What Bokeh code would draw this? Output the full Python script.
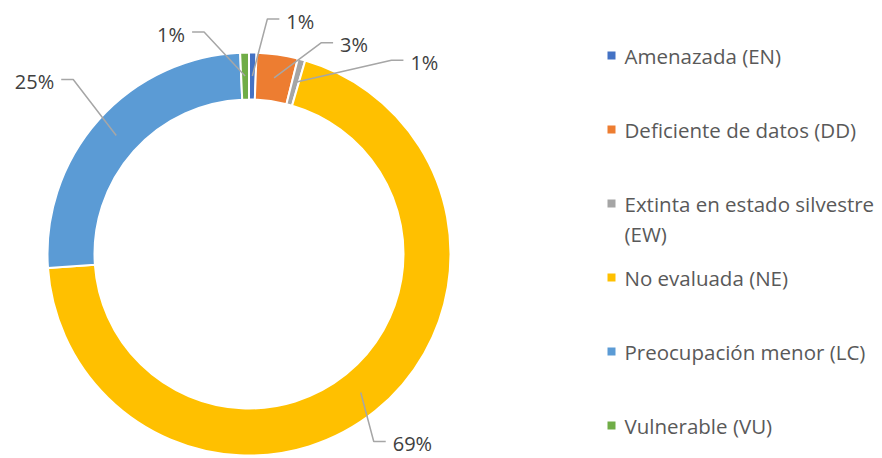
import numpy as np
from bokeh.plotting import figure
from bokeh.models import Range1d, ColumnDataSource
from bokeh.embed import file_html
from bokeh.resources import INLINE
from bokeh.core.properties import value

# ---- data ----
categories = ["Amenazada (EN)", "Deficiente de datos (DD)",
              "Extinta en estado silvestre (EW)", "No evaluada (NE)",
              "Preocupación menor (LC)", "Vulnerable (VU)"]
shares = [0.6, 3.3, 0.6, 69.4, 25.4, 0.7]
colors = ["#4472C4", "#ED7D31", "#A5A5A5", "#FFC000", "#5B9BD5", "#70AD47"]

# ---- layout (reference pixel space, y downward) ----
W, H = 882, 458
CX, CY = 248.5, 253.5
R_OUT, R_IN = 201.5, 154.5
R_MID = (R_OUT + R_IN) / 2
# leader elbow offsets from anchor (px, y down) and side of the label
elbow_off = [(15, -57), (47, -35), (96, -22), (13, 49), (-43, -56), (-41, -44)]
sides = [1, 1, 1, 1, -1, -1]
FONT = "Open Sans"

def fy(y_ref):
    return H - y_ref

p = figure(width=W, height=H, x_range=Range1d(0, W), y_range=Range1d(0, H),
           output_backend="svg", toolbar_location=None, min_border=0,
           x_axis_location=None, y_axis_location=None)
p.grid.visible = False
p.outline_line_color = None
p.background_fill_color = "white"

total = float(sum(shares))
fr = np.array(shares) / total
cum = np.concatenate([[0], np.cumsum(fr)])
start = np.pi / 2 - cum[1:] * 2 * np.pi
end = np.pi / 2 - cum[:-1] * 2 * np.pi

src = ColumnDataSource(dict(x=[CX] * len(shares), y=[fy(CY)] * len(shares),
                            start=start, end=end, color=colors))
p.annular_wedge(x="x", y="y", inner_radius=R_IN, outer_radius=R_OUT,
                start_angle="start", end_angle="end", fill_color="color",
                line_color="white", line_width=2, source=src)

# data labels with leader lines
xs, ys = [], []
lx_l, ly_l, lt_l = [], [], []
lx_r, ly_r, lt_r = [], [], []
for i, f in enumerate(fr):
    mid = (cum[i] + cum[i + 1]) / 2 * 2 * np.pi
    ax = CX + R_MID * np.sin(mid)
    ay = CY - R_MID * np.cos(mid)
    ex = ax + elbow_off[i][0]
    ey = ay + elbow_off[i][1]
    hx = ex + 12 * sides[i]
    xs.append([ax, ex, hx])
    ys.append([fy(ay), fy(ey), fy(ey)])
    txt = f"{int(round(f * 100))}%"
    if sides[i] > 0:
        lx_l.append(hx + 7); ly_l.append(fy(ey + 2)); lt_l.append(txt)
    else:
        lx_r.append(hx - 7); ly_r.append(fy(ey + 2)); lt_r.append(txt)

p.multi_line(xs=xs, ys=ys, line_color="#A6A6A6", line_width=1.5)
p.text(x=lx_l, y=ly_l, text=lt_l, text_font=value(FONT), text_font_size="20px",
       text_color="#404040", text_align="left", text_baseline="middle")
p.text(x=lx_r, y=ly_r, text=lt_r, text_font=value(FONT), text_font_size="20px",
       text_color="#404040", text_align="right", text_baseline="middle")

# legend
LEG_X, LEG_Y0, LEG_DY, LINE_DY = 611, 55, 74, 30
sq_x, sq_y = [], []
tx, ty, tt = [], [], []
for i, c in enumerate(categories):
    y0 = LEG_Y0 + i * LEG_DY
    sq_x.append(LEG_X); sq_y.append(fy(y0))
    if len(c) > 28:
        k = c.rfind(" ")
        lines = [c[:k], c[k + 1:]]
    else:
        lines = [c]
    for j, ln in enumerate(lines):
        tx.append(LEG_X + 13); ty.append(fy(y0 + j * LINE_DY)); tt.append(ln)
p.scatter(x=sq_x, y=sq_y, marker="square", size=8, fill_color=colors, line_color=None)
p.text(x=tx, y=ty, text=tt, text_font=value(FONT), text_font_size="20.5px",
       text_color="#595959", text_align="left", text_baseline="middle")

open("out.html", "w").write(file_html(p, INLINE))
